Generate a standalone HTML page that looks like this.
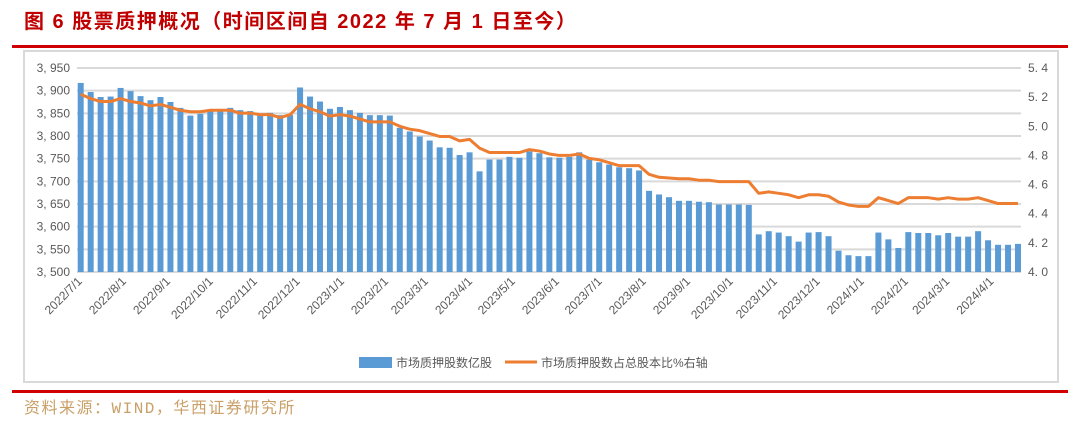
<!DOCTYPE html>
<html><head><meta charset="utf-8"><style>
body{margin:0;background:#fff;width:1079px;height:421px;overflow:hidden;font-family:"Liberation Sans","Noto Sans CJK SC",sans-serif;}
</style></head><body>
<svg width="1079" height="421" xmlns="http://www.w3.org/2000/svg">
<text x="24" y="28" font-size="20" letter-spacing="1.5" font-weight="bold" fill="#c00000" font-family="Liberation Sans,Noto Sans CJK SC,sans-serif">图 6  股票质押概况（时间区间自 2022 年 7 月 1 日至今）</text>
<rect x="12" y="45" width="1056" height="3" fill="#d00000"/>
<rect x="24" y="51" width="1034" height="331" fill="#fff" stroke="#d9d9d9" stroke-width="2"/>
<g id="grid"></g><g id="bars"></g><g id="line"></g><g id="axes"></g>
<g>
<rect x="359" y="357" width="33" height="11" fill="#5b9bd5"/>
<text x="396" y="367" font-size="12" fill="#595959">市场质押股数亿股</text>
<line x1="505" y1="362" x2="537" y2="362" stroke="#ed7d31" stroke-width="3"/>
<text x="541" y="367" font-size="12" fill="#595959">市场质押股数占总股本比%右轴</text>
</g>
<rect x="12" y="390" width="1056" height="3" fill="#d00000"/>
<text x="24" y="413" font-size="16" letter-spacing="1.5" fill="#c9a068" font-family="Liberation Mono,Noto Sans CJK SC,monospace">资料来源：WIND，华西证券研究所</text>
</svg>
<script>
const bars=[3917,3897,3886,3887,3906,3899,3888,3879,3886,3875,3862,3845,3849,3856,3856,3862,3857,3855,3849,3851,3846,3847,3907,3887,3876,3860,3864,3857,3851,
3846,3846,3845,3818,3810,3799,3790,3775,3774,3758,3764,3722,3748,3748,3754,3752,3766,3762,3753,3752,3754,3764,3748,3742,3737,3731,3729,3724,3679,3671,3665,3657,3657,3655,3654,
3649,3649,3649,3648,3583,3590,3587,3579,3567,3587,3588,3579,3547,3537,3535,3535,3587,3572,3553,3588,3586,3586,3581,3586,3578,3578,3590,3570,3560,3560,3562];
const ratio=[5.22,5.19,5.17,5.17,5.19,5.17,5.16,5.14,5.15,5.13,5.11,5.10,5.10,5.11,5.11,5.11,5.09,5.09,5.08,5.08,5.06,5.08,5.15,5.12,5.10,5.07,5.08,5.07,5.05,
5.03,5.03,5.03,5.00,4.98,4.97,4.95,4.93,4.93,4.90,4.91,4.85,4.82,4.82,4.82,4.82,4.84,4.83,4.81,4.80,4.80,4.81,4.78,4.77,4.75,4.73,4.73,4.73,4.67,4.65,4.645,4.64,4.64,4.63,4.63,
4.62,4.62,4.62,4.62,4.54,4.55,4.54,4.53,4.51,4.53,4.53,4.52,4.48,4.46,4.45,4.45,4.51,4.49,4.47,4.51,4.51,4.51,4.50,4.51,4.50,4.50,4.51,4.49,4.47,4.47,4.47];
const leftTicks=[3500,3550,3600,3650,3700,3750,3800,3850,3900,3950];
const rightTicks=[4.0,4.2,4.4,4.6,4.8,5.0,5.2,5.4];
const NS="http://www.w3.org/2000/svg";
const yTop=68,yBot=272,x0=80.7,step=(1018-80.7)/(bars.length-1);
const yL=v=>yBot-(v-3500)/450*(yBot-yTop);
const yR=v=>yBot-(v-4.0)/1.4*(yBot-yTop);
const xI=i=>x0+i*step;
function mk(t,a,p){const e=document.createElementNS(NS,t);for(const k in a)e.setAttribute(k,a[k]);document.getElementById(p).appendChild(e);return e;}
leftTicks.forEach(v=>{const g=mk('line',{x1:77,x2:1021,y1:yL(v),y2:yL(v),stroke:'#d9d9d9','stroke-width':2},'grid');


const t=mk('text',{x:70,y:yL(v)+4,'text-anchor':'end','font-size':12,fill:'#595959'},'axes');
t.textContent=v.toLocaleString('en-US').replace(',',', ');

});
rightTicks.forEach(v=>{const t=mk('text',{x:1028,y:yR(v)+4,'font-size':12,fill:'#595959'},'axes');
t.textContent=v.toFixed(1).replace('.','. ');

});
bars.forEach((v,i)=>{const r=mk('rect',{x:xI(i)-3,y:yL(v),width:6,height:yBot-yL(v),fill:'#5b9bd5'},'bars');

});
const pl=mk('polyline',{points:ratio.map((v,i)=>xI(i)+','+yR(v)).join(' '),fill:'none',stroke:'#ed7d31','stroke-width':3,'stroke-linejoin':'round'},'line');


const base=new Date(2022,6,1);
const months=[];for(let m=0;m<22;m++){months.push(new Date(2022,6+m,1));}
months.forEach(d=>{const wk=(d-base)/86400000/7;const x=xI(wk)+2;
const lab=d.getFullYear()+'/'+(d.getMonth()+1)+'/1';
const t=mk('text',{x:x,y:282,'text-anchor':'end','font-size':12,fill:'#595959',transform:'rotate(-45 '+x+' 282)'},'axes');
t.textContent=lab;

});
</script>
</body></html>
